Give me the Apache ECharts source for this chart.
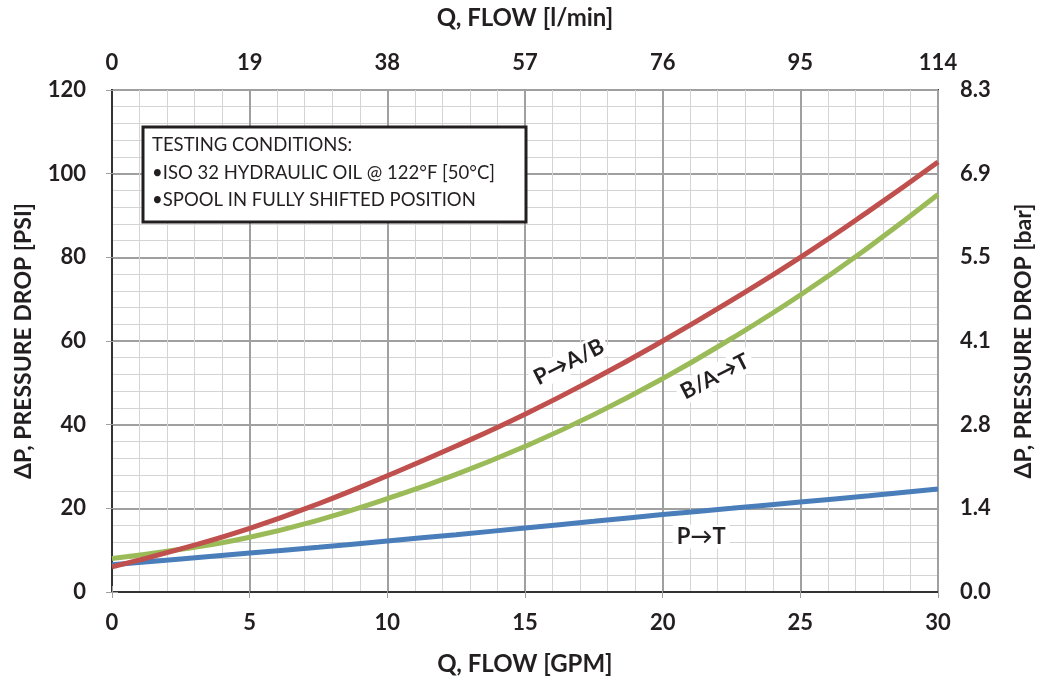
<!DOCTYPE html>
<html><head><meta charset="utf-8">
<script src="https://cdn.jsdelivr.net/npm/echarts@6/dist/echarts.min.js"></script>
<style>html,body{margin:0;padding:0;background:#fff}#c{width:1046px;height:687px}</style>
</head><body><div id="c"></div>
<script>
// Data (GPM vs PSI)
const flowGPM = [0, 2.5, 5, 7.5, 10, 12.5, 15, 17.5, 20, 22.5, 25, 27.5, 30];
const pToAB   = [6, 10.3, 15.2, 21.1, 27.8, 34.9, 42.5, 50.9, 60, 69.7, 80, 91.1, 102.8];
const baToT   = [8, 10.2, 13.1, 17.2, 22.3, 28.1, 34.8, 42.4, 51, 60.6, 71, 82.5, 95];
const pToT    = [6.5, 7.9, 9.3, 10.7, 12.2, 13.7, 15.3, 16.9, 18.5, 20, 21.5, 23, 24.6];
const lpmLabels = ['0', '19', '38', '57', '76', '95', '114'];
const barLabels = ['0.0', '1.4', '2.8', '4.1', '5.5', '6.9', '8.3'];
const seriesNames = ['P→A/B', 'B/A→T', 'P→T'];
const noteLines = ['TESTING CONDITIONS:', '•ISO 32 HYDRAULIC OIL @ 122°F [50°C]', '•SPOOL IN FULLY SHIFTED POSITION'];

const FONT = 'Lato, "Open Sans", sans-serif';
const pair = (ys) => flowGPM.map((x, i) => [x, ys[i]]);
const chart = echarts.init(document.getElementById('c'), null, {renderer: 'canvas'});

const axisLabelStyle = {fontFamily: FONT, fontWeight: 'bold', fontSize: 22, color: '#231f20'};
const nameStyleH = {fontFamily: FONT, fontWeight: 'bold', fontSize: 24, color: '#231f20'};
const nameStyleV = {fontFamily: FONT, fontWeight: 'bold', fontSize: 23, color: '#231f20'};
const majorSplit = {show: true, lineStyle: {color: '#a0a0a0', width: 2}};
const minorSplit = {show: true, lineStyle: {color: '#d4d4d4', width: 1}};
const tick = {show: true, length: 6, inside: false, lineStyle: {color: '#a0a0a0', width: 1}};

const option = {
  animation: false,
  backgroundColor: '#fff',
  grid: {left: 112, right: 108, top: 90, bottom: 95, show: true, borderColor: '#333', borderWidth: 2, backgroundColor: 'transparent'},
  xAxis: [
    {type: 'value', position: 'bottom', min: 0, max: 30, interval: 5,
     name: 'Q, FLOW [GPM]', nameLocation: 'middle', nameGap: 60, nameTextStyle: nameStyleH,
     axisLine: {show: true, lineStyle: {color: '#333', width: 2}},
     axisTick: tick, axisLabel: Object.assign({margin: 20}, axisLabelStyle),
     splitLine: majorSplit, minorTick: {show: false, splitNumber: 5}, minorSplitLine: minorSplit},
    {type: 'value', position: 'top', min: 0, max: 30, interval: 5,
     name: 'Q, FLOW [l/min]', nameLocation: 'middle', nameGap: 60, nameTextStyle: nameStyleH,
     axisLine: {show: true, lineStyle: {color: '#333', width: 2}},
     axisTick: tick,
     axisLabel: Object.assign({margin: 16, formatter: (v) => lpmLabels[Math.round(v / 5)]}, axisLabelStyle),
     splitLine: {show: false}}
  ],
  yAxis: [
    {type: 'value', position: 'left', min: 0, max: 120, interval: 20,
     name: 'ΔP, PRESSURE DROP [PSI]', nameLocation: 'middle', nameGap: 77, nameTextStyle: nameStyleV,
     axisLine: {show: true, lineStyle: {color: '#333', width: 2}},
     axisTick: tick, axisLabel: Object.assign({margin: 26}, axisLabelStyle),
     splitLine: majorSplit, minorTick: {show: false, splitNumber: 5}, minorSplitLine: minorSplit},
    {type: 'value', position: 'right', min: 0, max: 120, interval: 20,
     name: 'ΔP, PRESSURE DROP [bar]', nameLocation: 'middle', nameGap: 74, nameTextStyle: nameStyleV,
     axisLine: {show: true, lineStyle: {color: '#333', width: 2}},
     axisTick: tick,
     axisLabel: Object.assign({margin: 22, formatter: (v) => barLabels[Math.round(v / 20)]}, axisLabelStyle),
     splitLine: {show: false}}
  ],
  series: [
    {name: seriesNames[2], type: 'line', smooth: true, showSymbol: false, data: pair(pToT),
     lineStyle: {color: '#4a7ebb', width: 5}, z: 3},
    {name: seriesNames[1], type: 'line', smooth: true, showSymbol: false, data: pair(baToT),
     lineStyle: {color: '#9bbb59', width: 5}, z: 4},
    {name: seriesNames[0], type: 'line', smooth: true, showSymbol: false, data: pair(pToAB),
     lineStyle: {color: '#c0504d', width: 5}, z: 5}
  ]
};
chart.setOption(option);

function lbl(name, pos, rot) {
  const p = chart.convertToPixel({xAxisIndex: 0, yAxisIndex: 0}, pos);
  return {type: 'text', x: p[0], y: p[1], rotation: rot * Math.PI / 180, z: 10,
    style: {text: name, fill: '#231f20', font: 'bold 22px ' + FONT, align: 'center', verticalAlign: 'middle',
            backgroundColor: '#fff', padding: [1, 4]}};
}
chart.setOption({graphic: [
  {type: 'rect', shape: {x: 143, y: 127, width: 383, height: 95}, style: {fill: '#fff', stroke: '#231f20', lineWidth: 3}, z: 10},
  {type: 'text', x: 152, y: 145, z: 11, style: {text: noteLines[0], fill: '#231f20', font: '18.5px ' + FONT, verticalAlign: 'middle'}},
  {type: 'text', x: 152, y: 173, z: 11, style: {text: noteLines[1], fill: '#231f20', font: '18.5px ' + FONT, verticalAlign: 'middle'}},
  {type: 'text', x: 152, y: 200, z: 11, style: {text: noteLines[2], fill: '#231f20', font: '18.5px ' + FONT, verticalAlign: 'middle'}},
  lbl(seriesNames[0], [16.6, 55], 27),
  lbl(seriesNames[1], [21.9, 51.5], 27),
  lbl(seriesNames[2], [21.4, 13.2], 0)
]});
</script></body></html>
